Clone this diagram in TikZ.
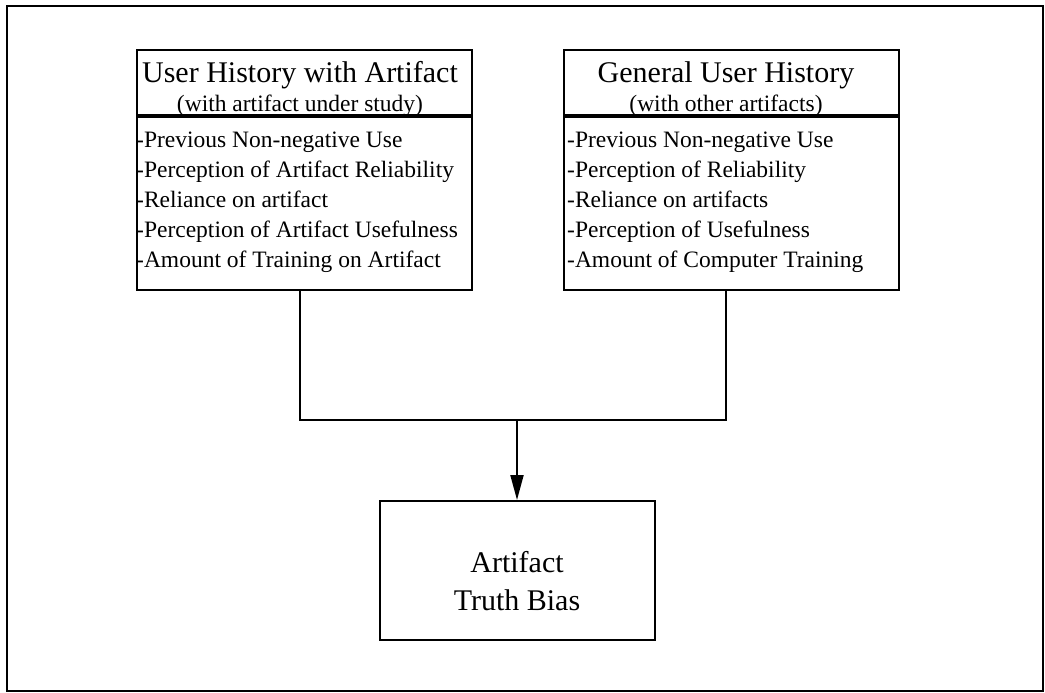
\documentclass[tikz,border=0pt]{standalone}
\usepackage{fontspec}
\setmainfont{Liberation Serif}
\usetikzlibrary{arrows.meta, positioning}

\begin{document}
\begin{tikzpicture}[x=1pt, y=-1pt,
    panel/.style={draw, line width=2pt, minimum width=335pt, inner sep=0pt},
    headfont/.style={font=\fontsize{30}{36}\selectfont, anchor=base, inner sep=0pt},
    notefont/.style={font=\fontsize{23.5}{28}\selectfont, anchor=base, inner sep=0pt},
    itemfont/.style={font=\fontsize{23.5}{28}\selectfont, anchor=base west, inner sep=0pt},
    link/.style={line width=2pt}]

    \useasboundingbox (0,0) rectangle (1045,693);

    % Outer frame
    \draw[line width=2.5pt] (7,6) rectangle (1043,691);

    % Left panel: history with the artifact under study
    \node[panel, minimum height=65pt, anchor=north] (lhead) at (304.5,49) {};
    \node[panel, minimum height=173pt, below=0pt of lhead] (lbody) {};
    \node[headfont] (ltitle) at (300,83) {User History with Artifact};
    \node[notefont] (lnote) at (300,111) {(with artifact under study)};
    \foreach \txt [count=\i] in {-Previous Non-negative Use, -Perception of Artifact Reliability,
        -Reliance on artifact, -Perception of Artifact Usefulness, -Amount of Training on Artifact}
        \node[itemfont] (litem\i) at (136,117+30*\i) {\txt};

    % Right panel: general history with other artifacts
    \node[panel, minimum height=65pt, anchor=north] (rhead) at (731,49) {};
    \node[panel, minimum height=173pt, below=0pt of rhead] (rbody) {};
    \node[headfont] (rtitle) at (726,83) {General User History};
    \node[notefont] (rnote) at (726,111) {(with other artifacts)};
    \foreach \txt [count=\i] in {-Previous Non-negative Use, -Perception of Reliability,
        -Reliance on artifacts, -Perception of Usefulness, -Amount of Computer Training}
        \node[itemfont] (ritem\i) at (567,117+30*\i) {\txt};

    % Outcome box
    \node[draw, line width=2pt, minimum width=275pt, minimum height=139pt, anchor=north] (bias) at (517,500) {};
    \node[headfont] (biasa) at (517,572) {Artifact};
    \node[headfont] (biasb) at (517,610) {Truth Bias};

    % Joining lines and arrow
    \draw[link] (ltitle |- lbody.south) -- ++(0,129) coordinate (ljoin) -| (rtitle |- rbody.south);
    \draw[link, -{Triangle[length=25pt, width=13pt]}] (ljoin -| bias.north) -- (bias.north);
\end{tikzpicture}
\end{document}
